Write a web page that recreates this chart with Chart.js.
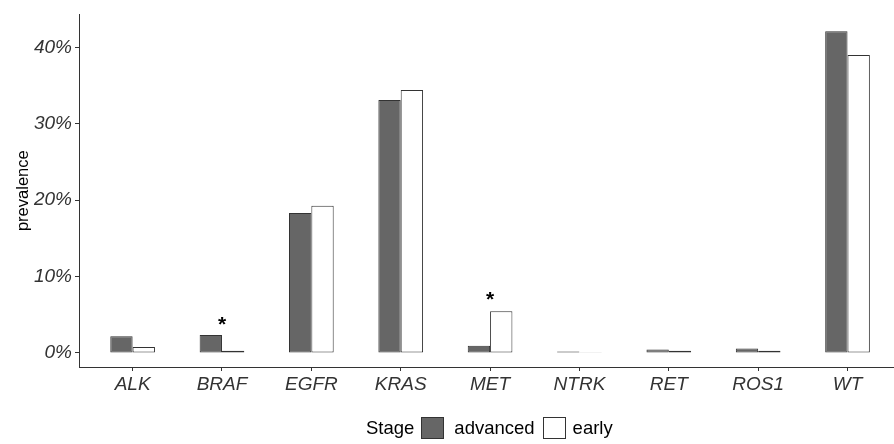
<!DOCTYPE html>
<html>
<head>
<meta charset="utf-8">
<script src="https://cdn.jsdelivr.net/npm/chart.js@4/dist/chart.umd.min.js"></script>
<style>
  html, body { margin: 0; padding: 0; background: #fff; }
  #wrap { position: relative; width: 894px; height: 444px; }
  #legend {
    position: absolute; left: 366px; top: 417px; height: 22px;
    display: flex; align-items: center;
    font-family: "Liberation Sans", Arial, sans-serif; font-size: 18.5px; color: #000;
  }
  #legend .box { width: 21px; height: 20px; border: 1px solid #333; box-sizing: content-box; }
</style>
</head>
<body>
<div id="wrap">
  <canvas id="chart" width="894" height="444"></canvas>
  <div id="legend">
    <span>Stage</span>
    <span class="box" style="background:#666666; margin-left:7px;"></span>
    <span style="margin-left:10px;">advanced</span>
    <span class="box" style="background:#ffffff; margin-left:8px;"></span>
    <span style="margin-left:7px;">early</span>
  </div>
</div>
<script>
// mutation prevalence (%) by stage
const categories = ['ALK', 'BRAF', 'EGFR', 'KRAS', 'MET', 'NTRK', 'RET', 'ROS1', 'WT'];
const advanced = [2.2, 2.35, 18.3, 33.1, 0.95, 0.2, 0.45, 0.57, 42.1];
const early = [0.77, 0.3, 19.25, 34.4, 5.45, 0.1, 0.3, 0.3, 39.0];
const yTicks = [0, 10, 20, 30, 40];
// significance marks: category and height of the star (%)
const sigCategories = ['BRAF', 'MET'];
const sigHeights = [4.2, 7.4];

const FONT = '"Liberation Sans", Arial, sans-serif';
const AXIS = '#333333';

function toPoints(values) {
  return values.map((v, i) => ({ x: i + 1, y: v }));
}

const starPlugin = {
  id: 'stars',
  afterDatasetsDraw(chart) {
    const { ctx, scales } = chart;
    ctx.save();
    ctx.fillStyle = '#000';
    ctx.font = 'bold 21px ' + FONT;
    ctx.textAlign = 'center';
    ctx.textBaseline = 'alphabetic';
    sigCategories.forEach((cat, k) => {
      const x = scales.x.getPixelForValue(categories.indexOf(cat) + 1);
      const y = scales.y.getPixelForValue(sigHeights[k]);
      const m = ctx.measureText('*');
      ctx.fillText('*', x, y + (m.actualBoundingBoxAscent - m.actualBoundingBoxDescent) / 2);
    });
    ctx.restore();
  }
};

const barStyle = {
  borderWidth: 1,
  borderColor: AXIS,
  borderSkipped: false,
  categoryPercentage: 0.5,
  barPercentage: 1.0
};

new Chart(document.getElementById('chart'), {
  type: 'bar',
  data: {
    datasets: [
      Object.assign({ label: 'advanced', data: toPoints(advanced), backgroundColor: '#666666' }, barStyle),
      Object.assign({ label: 'early', data: toPoints(early), backgroundColor: '#ffffff' }, barStyle)
    ]
  },
  options: {
    responsive: false,
    animation: false,
    devicePixelRatio: 1,
    layout: { padding: { top: 9, right: 0, bottom: 47, left: 0 } },
    plugins: { legend: { display: false }, tooltip: { enabled: false } },
    scales: {
      x: {
        type: 'linear',
        min: 0.4,
        max: 9.52,
        offset: false,
        afterBuildTicks: s => { s.ticks = categories.map((c, i) => ({ value: i + 1 })); },
        afterFit: s => { s.height = 30; },
        ticks: {
          autoSkip: false,
          maxRotation: 0,
          padding: 2,
          color: '#333',
          font: { family: FONT, size: 19, style: 'italic' },
          callback: v => categories[v - 1]
        },
        grid: { display: true, offset: false, drawOnChartArea: false, drawTicks: true, tickLength: 4, color: AXIS },
        border: { display: true, color: AXIS, width: 1 }
      },
      y: {
        min: -1.84,
        max: 44.3,
        afterBuildTicks: s => { s.ticks = yTicks.map(v => ({ value: v })); },
        afterFit: s => { s.width = 79; },
        ticks: {
          padding: 3,
          color: '#333',
          font: { family: FONT, size: 19, style: 'italic' },
          callback: v => v + '%'
        },
        grid: { display: true, drawOnChartArea: false, drawTicks: true, tickLength: 4, color: AXIS },
        border: { display: true, color: AXIS, width: 1 },
        title: {
          display: true,
          text: 'prevalence',
          color: '#000',
          padding: { top: 14, bottom: 0 },
          font: { family: FONT, size: 16.5 }
        }
      }
    }
  },
  plugins: [starPlugin]
});
</script>
</body>
</html>
